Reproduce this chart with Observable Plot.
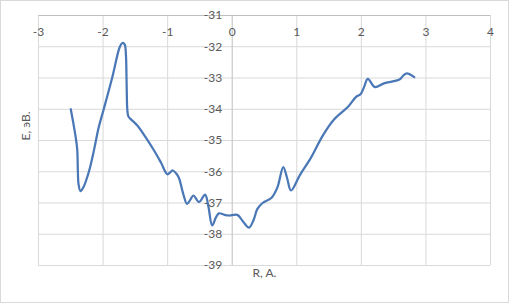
<!DOCTYPE html>
<html>
<head>
<meta charset="utf-8">
<script src="https://cdn.jsdelivr.net/npm/d3@7"></script>
<script src="https://cdn.jsdelivr.net/npm/@observablehq/plot@0.6"></script>
<style>
  html, body { margin: 0; padding: 0; background: #fff; }
  #chart svg { display: block; outline: 1px solid #d9d9d9; outline-offset: -1px; }
</style>
</head>
<body>
<div id="chart"></div>
<script>
const R = [-2.50,-2.46,-2.42,-2.40,-2.39,-2.38,-2.35,-2.31,-2.22,-2.14,-2.07,-1.99,-1.86,-1.74,-1.70,-1.675,-1.66,-1.645,-1.635,-1.625,-1.61,-1.58,-1.47,-1.34,-1.21,-1.10,-1.005,-0.96,-0.92,-0.87,-0.825,-0.76,-0.70,-0.65,-0.60,-0.515,-0.42,-0.37,-0.31,-0.25,-0.205,-0.12,-0.05,0.08,0.17,0.26,0.33,0.39,0.47,0.61,0.70,0.79,0.85,0.91,1.05,1.22,1.40,1.58,1.79,1.915,1.99,2.04,2.10,2.21,2.35,2.59,2.65,2.705,2.82];
const E = [-34.0,-34.45,-34.95,-35.3,-36.0,-36.4,-36.62,-36.52,-36.0,-35.3,-34.6,-34.0,-33.0,-32.0,-31.88,-31.9,-31.95,-32.3,-33.2,-34.0,-34.22,-34.3,-34.52,-34.9,-35.32,-35.72,-36.08,-36.02,-35.96,-36.05,-36.2,-36.7,-37.03,-36.9,-36.76,-36.97,-36.73,-37.1,-37.72,-37.45,-37.33,-37.38,-37.4,-37.38,-37.6,-37.79,-37.55,-37.19,-37.0,-36.83,-36.5,-35.85,-36.2,-36.6,-36.1,-35.55,-34.85,-34.32,-33.93,-33.61,-33.51,-33.3,-33.03,-33.29,-33.17,-33.05,-32.92,-32.85,-32.97];
const xTicks = [-3,-2,-1,0,1,2,3,4];
const yTicks = [-31,-32,-33,-34,-35,-36,-37,-38,-39];
const xTitle = "R, A.";
const yTitle = "E, эВ.";

const data = R.map((r, i) => ({r, e: E[i]}));
const font = "Lato, 'Open Sans', sans-serif";

const chart = Plot.plot({
  width: 509,
  height: 303,
  marginLeft: 38,
  marginRight: 19,
  marginTop: 15,
  marginBottom: 38,
  x: {domain: [-3, 4], axis: null},
  y: {domain: [-39, -31], axis: null},
  style: {fontFamily: font, fontSize: "12px", color: "#595959", background: "#fff"},
  marks: [
    Plot.ruleY(yTicks, {stroke: "#d9d9d9", strokeWidth: 1}),
    Plot.ruleX(xTicks.filter(d => d !== 0), {stroke: "#d9d9d9", strokeWidth: 1}),
    Plot.ruleX([0], {stroke: "#bfbfbf", strokeWidth: 1}),
    Plot.ruleY([-31], {stroke: "#bfbfbf", strokeWidth: 1}),
    Plot.line(data, {x: "r", y: "e", stroke: "#4a78b6", strokeWidth: 2.25, curve: "catmull-rom"}),
    Plot.text(xTicks, {x: d => d, y: -31, text: d => String(d), dy: 17, fill: "#595959", fontSize: 12}),
    Plot.text(yTicks, {x: 0, y: d => d, text: d => String(d), dx: -10, textAnchor: "end", fill: "#595959", fontSize: 12}),
    Plot.text([yTitle], {frameAnchor: "left", dx: -12, rotate: -90, fill: "#595959", fontSize: 12}),
    Plot.text([xTitle], {frameAnchor: "bottom", dy: 11, fill: "#595959", fontSize: 12})
  ]
});
document.getElementById("chart").append(chart);
</script>
</body>
</html>
